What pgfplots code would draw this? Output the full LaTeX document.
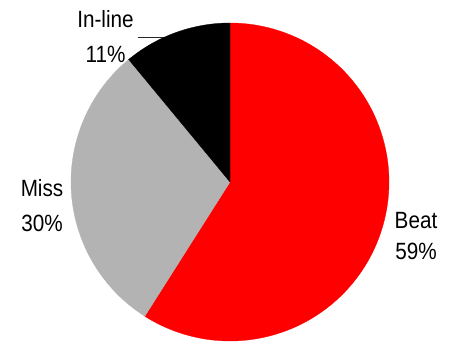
\documentclass[border=0pt]{standalone}
\usepackage{pgfplots}
\pgfplotsset{compat=1.18}
\usepackage{pgfplotstable}
\usepackage{fontspec}
\setmainfont{Liberation Sans}[FakeStretch=0.88]

\definecolor{beatred}{RGB}{255,0,0}
\definecolor{missgray}{RGB}{179,179,179}
\definecolor{inlineblack}{RGB}{0,0,0}

% share of results, in percent
\pgfplotstableread{
name value
Beat 59
Miss 30
In-line 11
}\piedata

\begin{document}
\begin{tikzpicture}
\useasboundingbox (0,0) rectangle (453bp,343bp);
% slice values and the angles between them (clockwise from the top)
\pgfplotstablegetelem{0}{value}\of\piedata \pgfmathsetmacro\vBeat{\pgfplotsretval}
\pgfplotstablegetelem{1}{value}\of\piedata \pgfmathsetmacro\vMiss{\pgfplotsretval}
\pgfplotstablegetelem{2}{value}\of\piedata \pgfmathsetmacro\vInline{\pgfplotsretval}
\pgfmathsetmacro\aA{90}
\pgfmathsetmacro\aB{\aA-3.6*\vBeat}
\pgfmathsetmacro\aC{\aB-3.6*\vMiss}
\pgfmathsetmacro\aD{\aC-3.6*\vInline}
\def\cx{230}\def\cy{161}\def\r{159}
\begin{axis}[
  at={(0,0)}, anchor=south west,
  width=453bp, height=343bp, scale only axis,
  xmin=0, xmax=453, ymin=0, ymax=343,
  hide axis, clip=false,
]
% leader line for the small slice
\draw[black!85, line width=0.8bp] (axis cs:137.5,305.7) -- (axis cs:166,305.7);
\addplot[fill=beatred, draw=beatred, line width=0.3bp, domain=\aB:\aA, samples=150]
  ({\cx+\r*cos(x)},{\cy+\r*sin(x)}) -- (axis cs:\cx,\cy) -- cycle;
\addplot[fill=missgray, draw=missgray, line width=0.3bp, domain=\aC:\aB, samples=100]
  ({\cx+\r*cos(x)},{\cy+\r*sin(x)}) -- (axis cs:\cx,\cy) -- cycle;
\addplot[fill=inlineblack, draw=inlineblack, line width=0.3bp, domain=\aD:\aC, samples=50]
  ({\cx+\r*cos(x)},{\cy+\r*sin(x)}) -- (axis cs:\cx,\cy) -- cycle;
% slice labels
\begin{scope}[every node/.style={anchor=base, inner sep=0pt, font=\fontsize{23.5bp}{28bp}\selectfont}]
\node at (axis cs:105.5,315) {In-line};
\node at (axis cs:105.5,280) {11\%};
\node at (axis cs:42,146) {Miss};
\node at (axis cs:42,111) {30\%};
\node at (axis cs:416,114.7) {Beat};
\node at (axis cs:416,83) {59\%};
\end{scope}
\end{axis}
\end{tikzpicture}
\end{document}
